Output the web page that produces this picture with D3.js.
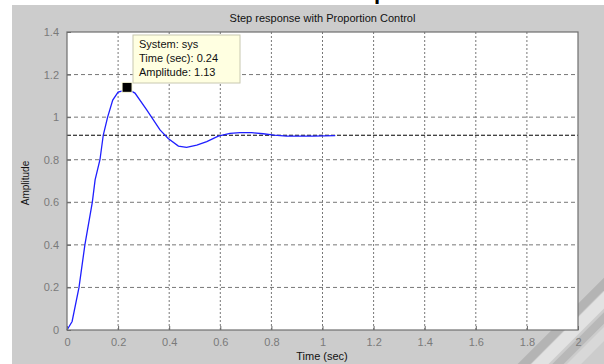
<!DOCTYPE html>
<html>
<head>
<meta charset="utf-8">
<script src="https://cdn.jsdelivr.net/npm/d3@7"></script>
<style>
  body { margin: 0; background: #fff; }
  text { font-family: "Liberation Sans", Arial, sans-serif; }
</style>
</head>
<body>
<svg></svg>
<script>
// canvas size
const w = 604;
const h = 364;

// plot box (pixels)
const boxLeft = 67, boxRight = 578, boxTop = 32, boxBottom = 330;

// step response
const timeValues = [0, 0.02, 0.047, 0.07, 0.099, 0.11, 0.129, 0.142, 0.159, 0.179, 0.2, 0.24, 0.266, 0.312, 0.364, 0.396, 0.436, 0.468, 0.508, 0.547, 0.592, 0.638, 0.677, 0.723, 0.768, 0.81, 0.86, 0.964, 1.05];
const ampValues  = [0, 0.04, 0.2, 0.4, 0.6, 0.705, 0.8, 0.916, 1.0, 1.08, 1.118, 1.13, 1.113, 1.034, 0.94, 0.9, 0.864, 0.858, 0.869, 0.885, 0.911, 0.924, 0.927, 0.927, 0.922, 0.916, 0.911, 0.911, 0.913];

// steady state line
const steadyValue = 0.915;

// data tip
const tipTime = 0.235;
const tipAmp = 1.14;
const tipLines = ["System: sys", "Time (sec): 0.24", "Amplitude: 1.13"];

// ticks
const xTicks = [0, 0.2, 0.4, 0.6, 0.8, 1, 1.2, 1.4, 1.6, 1.8, 2];
const yTicks = [0, 0.2, 0.4, 0.6, 0.8, 1, 1.2, 1.4];

const svg = d3.select("svg")
              .attr("width", w)
              .attr("height", h);

// heading glyph cut off at the very top
svg.append("text")
   .attr("x", 374)
   .attr("y", -1)
   .attr("font-family", "Liberation Serif")
   .attr("font-weight", "bold")
   .attr("font-size", 22)
   .text("p");

// gray figure background
svg.append("rect")
   .attr("x", 12).attr("y", 5)
   .attr("width", w - 12).attr("height", h - 5)
   .attr("fill", "#cccccc");

// faint watermark stripes, bottom right
const stripes = [
  { off: 0, color: "#b4b4b4", width: 9 },
  { off: 16, color: "#e2e2e2", width: 12 },
  { off: 34, color: "#b8b8b8", width: 8 },
  { off: 50, color: "#d8d8d8", width: 10 }
];
svg.append("g").selectAll("line")
   .data(stripes)
   .enter()
   .append("line")
   .attr("x1", d => 520 + d.off).attr("y1", h + 4)
   .attr("x2", d => 610 + d.off).attr("y2", h - 86)
   .attr("stroke", d => d.color)
   .attr("stroke-width", d => d.width);

// white axes area
svg.append("rect")
   .attr("x", boxLeft).attr("y", boxTop)
   .attr("width", boxRight - boxLeft).attr("height", boxBottom - boxTop)
   .attr("fill", "#fff");

// scales
const xScale = d3.scaleLinear().domain([0, 2]).range([boxLeft, boxRight]);
const yScale = d3.scaleLinear().domain([0, 1.4]).range([boxBottom, boxTop]);

// grid lines
svg.append("g").selectAll("line")
   .data(xTicks.slice(1, -1))
   .enter()
   .append("line")
   .attr("x1", d => xScale(d)).attr("x2", d => xScale(d))
   .attr("y1", boxTop).attr("y2", boxBottom)
   .attr("stroke", "#777")
   .attr("stroke-dasharray", "2,2");

svg.append("g").selectAll("line")
   .data(yTicks.slice(1, -1))
   .enter()
   .append("line")
   .attr("x1", boxLeft).attr("x2", boxRight)
   .attr("y1", d => yScale(d)).attr("y2", d => yScale(d))
   .attr("stroke", "#777")
   .attr("stroke-dasharray", "4,3");

// steady state dashed line
svg.append("line")
   .attr("x1", boxLeft).attr("x2", boxRight)
   .attr("y1", yScale(steadyValue)).attr("y2", yScale(steadyValue))
   .attr("stroke", "#000")
   .attr("stroke-dasharray", "4,2");

// response curve
const points = timeValues.map((t, i) => [t, ampValues[i]]);
svg.append("path")
   .datum(points)
   .attr("fill", "none")
   .attr("stroke", "#1f1fff")
   .attr("stroke-width", 1.3)
   .attr("d", d3.line().x(d => xScale(d[0])).y(d => yScale(d[1])));

// axes
const xAxis = d3.axisBottom(xScale).tickValues(xTicks).tickSize(-4).tickPadding(8).tickFormat(d3.format("~g"));
const yAxis = d3.axisLeft(yScale).tickValues(yTicks).tickSize(-4).tickPadding(8).tickFormat(d3.format("~g"));

const gx = svg.append("g")
   .attr("transform", "translate(0," + boxBottom + ")")
   .call(xAxis);
const gy = svg.append("g")
   .attr("transform", "translate(" + boxLeft + ",0)")
   .call(yAxis);

[gx, gy].forEach(g => {
  g.select(".domain").remove();
  g.selectAll("line").attr("stroke", "#666");
  g.selectAll("text")
   .attr("fill", "#7a7a7a")
   .attr("font-size", 11)
   .attr("font-family", "Liberation Sans, Arial, sans-serif");
});

// box around axes
svg.append("rect")
   .attr("x", boxLeft).attr("y", boxTop)
   .attr("width", boxRight - boxLeft).attr("height", boxBottom - boxTop)
   .attr("fill", "none")
   .attr("stroke", "#6e6e6e")
   .attr("stroke-width", 1.2);

// title and labels
svg.append("text")
   .attr("x", (boxLeft + boxRight) / 2)
   .attr("y", 22)
   .attr("text-anchor", "middle")
   .attr("font-size", 11)
   .attr("fill", "#111")
   .text("Step response with Proportion Control");

svg.append("text")
   .attr("x", 322)
   .attr("y", 360)
   .attr("text-anchor", "middle")
   .attr("font-size", 11)
   .attr("fill", "#111")
   .text("Time (sec)");

svg.append("text")
   .attr("transform", "translate(29,183) rotate(-90)")
   .attr("text-anchor", "middle")
   .attr("font-size", 10)
   .attr("fill", "#111")
   .text("Amplitude");

// data tip marker
const mx = xScale(tipTime), my = yScale(tipAmp);
svg.append("rect")
   .attr("x", mx - 5).attr("y", my - 5)
   .attr("width", 10).attr("height", 10)
   .attr("fill", "#000")
   .attr("stroke", "#ffffe1")
   .attr("stroke-width", 1);

// data tip box
const tip = svg.append("g").attr("transform", "translate(133,35)");
tip.append("rect")
   .attr("width", 107).attr("height", 48)
   .attr("fill", "#ffffe1")
   .attr("stroke", "#c8c8b0");
tip.selectAll("text")
   .data(tipLines)
   .enter()
   .append("text")
   .attr("x", 6)
   .attr("y", (d, i) => 13 + i * 14)
   .attr("font-size", 11)
   .attr("fill", "#111")
   .text(d => d);
</script>
</body>
</html>
